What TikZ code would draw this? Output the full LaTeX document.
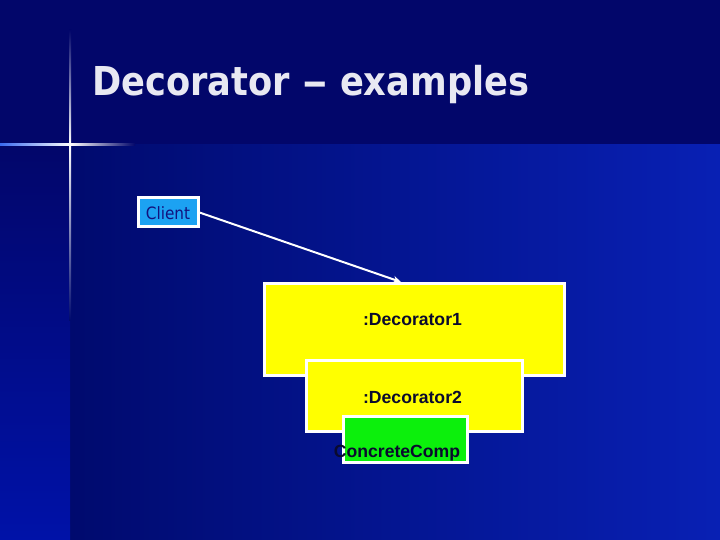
\documentclass[tikz,border=0pt]{standalone}
\usepackage{graphicx}
\usepackage{fontspec}
\setmainfont{Liberation Sans}
\newfontfamily\tahoma{DejaVu Sans}[FakeStretch=0.9]
\newfontfamily\tahomatitle{DejaVu Sans}[FakeStretch=0.885]
\usetikzlibrary{arrows.meta,calc}
\definecolor{navytop}{HTML}{02066A}
\definecolor{navymid}{HTML}{000A6E}
\definecolor{blueright}{HTML}{0820B4}
\definecolor{stripbot}{HTML}{0012A8}
\definecolor{glow}{HTML}{3A6AF0}
\definecolor{clientfill}{HTML}{1CA2F2}
\definecolor{clienttext}{HTML}{12127E}
\definecolor{yelfill}{RGB}{255,255,0}
\definecolor{greenfill}{RGB}{12,240,12}
\definecolor{inktext}{HTML}{0A0A2E}
\definecolor{titlecol}{HTML}{E8E8F2}
\begin{document}
\begin{tikzpicture}[x=1pt,y=-1pt,
  objbox/.style={draw=white, line width=3pt, inner sep=0pt},
  yellowbox/.style={objbox, fill=yelfill},
  greenbox/.style={objbox, fill=greenfill},
  objlabel/.style={font=\bfseries\fontsize{17.6}{20}\selectfont, text=inktext, anchor=base, inner sep=0pt},
  conn/.style={draw=white, line width=2pt, -{Stealth[length=8pt,width=7pt]}}
]
\useasboundingbox (0,0) rectangle (720,540);
% background
\fill[navytop] (0,0) rectangle (720,145);
\shade[left color=navymid, right color=blueright] (70,145) rectangle (720,540);
\shade[top color=navytop, bottom color=stripbot] (0,145) rectangle (70,540);
% glowing cross
\shade[top color=navytop, bottom color=white] (69,30) rectangle (71,145);
\shade[top color=white, bottom color=navymid] (69,145) rectangle (71,320);
\shade[left color=glow, right color=white] (0,144) rectangle (70,146);
\shade[left color=white, right color=navytop] (70,144) rectangle (135,146);
% title
\node[anchor=base west, inner sep=0pt, text=titlecol,
      font=\tahomatitle\bfseries\fontsize{39.8}{44}\selectfont] (title) at (92,96) {Decorator \scalebox{1.45}[1]{–} examples};
% client
\node[objbox, fill=clientfill, minimum width=60pt, minimum height=29pt] (client) at (168,212.5) {};
\node[anchor=base, inner sep=0pt, text=clienttext, font=\tahoma\fontsize{17}{20}\selectfont] (clienttxt) at (168,219) {Client};
% decorators
\node[yellowbox, minimum width=300pt, minimum height=92pt] (dec1) at (414.5,329.5) {};
\node[objlabel] (dec1txt) at (412.5,325) {:Decorator1};
\node[yellowbox, minimum width=216pt, minimum height=71pt] (dec2) at (414.5,396) {};
\node[objlabel] (dec2txt) at (412.5,403) {:Decorator2};
\node[greenbox, minimum width=124pt, minimum height=46pt] (conc) at (405.5,439.5) {};
\node[objlabel] (conctxt) at (397,457) {ConcreteComp};
% connector
\coordinate (tgt) at ([xshift=-13.5pt]dec1.north);
\draw[conn] (client.east) -- (tgt);
\end{tikzpicture}
\end{document}
